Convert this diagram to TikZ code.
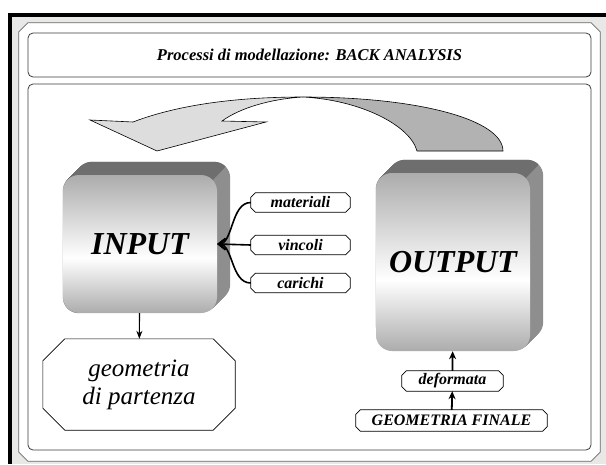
\documentclass[tikz,border=0pt]{standalone}
\usepackage{fontspec}
\setmainfont{Liberation Serif}
\usetikzlibrary{arrows.meta,positioning,calc}
\definecolor{paper}{HTML}{e8e8e6}
\definecolor{frameline}{HTML}{6a6a6a}
\definecolor{boxline}{HTML}{3c3c3c}
\definecolor{ribbonlight}{HTML}{dddddd}
\definecolor{ribbondark}{HTML}{b2b2b2}
\definecolor{sideface}{HTML}{8e8e8e}
\definecolor{topface}{HTML}{6e6e6e}
\pgfdeclarelayer{base}
\pgfdeclarelayer{back}
\pgfsetlayers{base,back,main}
\pgfdeclareverticalshading{blockshade}{100bp}{color(0bp)=(gray!65); color(25bp)=(gray!65); color(45bp)=(white); color(75bp)=(gray!65); color(100bp)=(gray!65)}

% extruded back of a block
\newcommand{\extrude}[1]{%
  \begin{pgfonlayer}{back}
    \foreach \i in {1,...,13}
      \fill[sideface, rounded corners=16pt] ([shift={(\i*1pt,\i*1pt)}]#1.south west) rectangle ([shift={(\i*1pt,\i*1pt)}]#1.north east);
    \begin{scope}
      \clip ([shift={(20pt,20pt)}]#1.north east) -- ++(-300pt,-300pt) -- ++(-150pt,150pt) -- ++(300pt,300pt) -- cycle;
      \foreach \i in {0,...,13}
        \fill[topface, rounded corners=16pt] ([shift={(\i*1pt,\i*1pt)}]#1.south west) rectangle ([shift={(\i*1pt,\i*1pt)}]#1.north east);
    \end{scope}
  \end{pgfonlayer}}
% octagon outline round a node
\newcommand{\chamfer}[3][0.8pt]{%
  \filldraw[fill=white, line width=#1] ([xshift=#3]#2.north west) -- ([xshift=-#3]#2.north east) -- ([yshift=-#3]#2.north east) -- ([yshift=#3]#2.south east) -- ([xshift=-#3]#2.south east) -- ([xshift=#3]#2.south west) -- ([yshift=#3]#2.south west) -- ([yshift=-#3]#2.north west) -- cycle;}

\begin{document}
\begin{tikzpicture}[x=1pt, y=-1pt,
  panel/.style={draw=boxline, line width=0.8pt, rounded corners=5pt, fill=white, inner sep=0pt},
  block/.style={rounded corners=16pt, shade, shading=blockshade, minimum width=154pt, inner sep=0pt, font=\bfseries\itshape\fontsize{32}{36}\selectfont},
  tag/.style={inner sep=0pt, minimum height=19pt, font=\bfseries\itshape\fontsize{16}{19}\selectfont},
  feed/.style={-{Straight Barb[length=7pt,width=11pt]}, line width=1.6pt},
  drop/.style={-{Stealth[length=8pt,width=6pt]}, line width=1.1pt},
  lift/.style={-{Stealth[length=8pt,width=7pt]}, line width=1.8pt}]
  \useasboundingbox (0,0) rectangle (606,464);
  \begin{pgfonlayer}{base}
    \fill[paper] (12,17) rectangle (606,464);
    \fill[black] (8,13) rectangle (606,17);
    \fill[black] (8,13) rectangle (12,464);
    \node[inner sep=0pt, minimum width=581pt, minimum height=438pt] (frame) at (309.5,242) {};
    \begin{scope}[draw=frameline]
      \chamfer[0.8pt]{frame}{9pt}
    \end{scope}
    \node[panel, minimum width=563pt, minimum height=44pt, font=\bfseries\itshape\fontsize{16.5}{20}\selectfont] (title) at (309.5,55) {Processi di modellazione: BACK ANALYSIS};
    \node[panel, minimum width=563pt, minimum height=366pt] (stage) at (309.5,267) {};
  \end{pgfonlayer}

  % curved arrow from OUTPUT back to INPUT
  \filldraw[fill=ribbonlight, draw=black, line width=0.6pt] (133,122) .. controls (180,104) and (240,97) .. (303,97) .. controls (270,99) and (240,108) .. (222,121) -- (266,122) -- (157,151) -- (90,120) -- cycle;
  \filldraw[fill=ribbondark, draw=black, line width=0.6pt] (303,97) .. controls (420,97) and (503,120) .. (503,151) -- (417,151) .. controls (410,125) and (360,100) .. (303,97) -- cycle;

  \node[block, minimum height=138pt] (inp) at (140,244) {INPUT};
  \node[block, minimum height=178pt] (out) at (453,262) {OUTPUT};
  \extrude{inp}
  \extrude{out}

  \node[tag, minimum width=99pt] (mat) at (300.5,202.5) {materiali};
  \node[tag, minimum width=99pt] (vin) at (300.5,245) {vincoli};
  \node[tag, minimum width=99pt] (car) at (300.5,283) {carichi};
  \node[tag, minimum width=192pt, minimum height=91pt, align=center, font=\itshape\fontsize{25}{28}\selectfont] (geo) at (139,384.5) {geometria\\di partenza};
  \node[tag, minimum width=101pt, minimum height=20pt] (def) at (452.5,381) {deformata};
  \node[tag, minimum width=191pt, minimum height=21pt] (fin) at (451.5,420.5) {GEOMETRIA FINALE};
  \begin{pgfonlayer}{back}
    \chamfer{mat}{4.5pt}
    \chamfer{vin}{4.5pt}
    \chamfer{car}{4.5pt}
    \chamfer[0.6pt]{geo}{22pt}
    \chamfer{def}{4.5pt}
    \chamfer{fin}{4.5pt}
  \end{pgfonlayer}

  \draw[feed] (mat.west) .. controls +(-20,0) and +(16,0) .. (inp.east);
  \draw[feed] (vin.west) -- (inp.east);
  \draw[feed] (car.west) .. controls +(-20,0) and +(16,0) .. (inp.east);
  \draw[drop] (inp) -- (geo);
  \draw[lift] (fin) -- (def);
  \draw[lift] (def) -- (out);
\end{tikzpicture}
\end{document}
